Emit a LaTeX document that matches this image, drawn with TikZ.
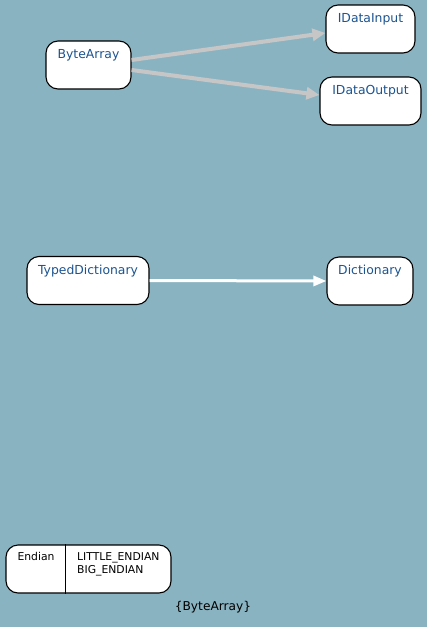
\documentclass[tikz,border=0pt]{standalone}
\usepackage{xcolor}
\usepackage{fontspec}
\setmainfont{DejaVu Sans}
\usetikzlibrary{positioning, arrows.meta}
\definecolor{bgblue}{HTML}{8AB3C1}
\definecolor{nodeblue}{HTML}{1C5490}
\definecolor{edgegray}{HTML}{C6C6C6}

\tikzset{
  classbox/.style={draw, fill=white, rounded corners=12pt, line width=1.1pt,
    text=nodeblue, font=\fontsize{12.4}{14}\selectfont,
    inner xsep=0pt, inner ysep=0pt, text height=17.5pt, text depth=30.5pt},
  recbox/.style={draw, fill=white, rounded corners=12pt, line width=1.1pt,
    minimum height=48pt, inner sep=0pt},
  rectext/.style={font=\fontsize{10.8}{13.5}\selectfont, inner sep=0pt, align=left},
  implarrow/.style={edgegray, line width=4pt, -{Triangle[length=13pt, width=12pt]}},
  extarrow/.style={white, line width=3pt, -{Triangle[length=13pt, width=10pt]}}
}

\begin{document}
\begin{tikzpicture}[x=1pt, y=-1pt]
    \fill[bgblue] (0,0) rectangle (427,627);
    \useasboundingbox (0,0) rectangle (427,627);

    % classes
    \node[classbox, minimum width=85pt] (bytearray) at (88.5,65) {ByteArray};
    \node[classbox, minimum width=89pt] (idatainput) at (370.5,29) {IDataInput};
    \node[classbox, minimum width=101pt] (idataoutput) at (370.5,101) {IDataOutput};
    \node[classbox, minimum width=122pt] (typeddict) at (88,280.5) {TypedDictionary};
    \node[classbox, minimum width=86pt] (dictionary) at (370,281) {Dictionary};

    % relations
    \draw[implarrow] ([yshift=5pt]bytearray.east) -- ([yshift=-4pt]idatainput.west);
    \draw[implarrow] ([yshift=-5pt]bytearray.east) -- ([yshift=6pt]idataoutput.west);
    \draw[extarrow] (typeddict.east) -- (dictionary.west);

    % enum record
    \node[recbox, minimum width=165pt] (endian) at (88.5,569) {};
    \draw[line width=1.1pt] ([xshift=60pt]endian.north west) -- ([xshift=60pt]endian.south west);
    \node[rectext, anchor=base] (endianname) at (36,560) {Endian};
    \node[rectext, anchor=north west] (endianvals) at (77,552) {LITTLE\_ENDIAN\\BIG\_ENDIAN};

    \node[font=\fontsize{12.2}{14}\selectfont, inner sep=0pt, anchor=base] (pkgname) at (213,610) {\{ByteArray\}};
\end{tikzpicture}
\end{document}
